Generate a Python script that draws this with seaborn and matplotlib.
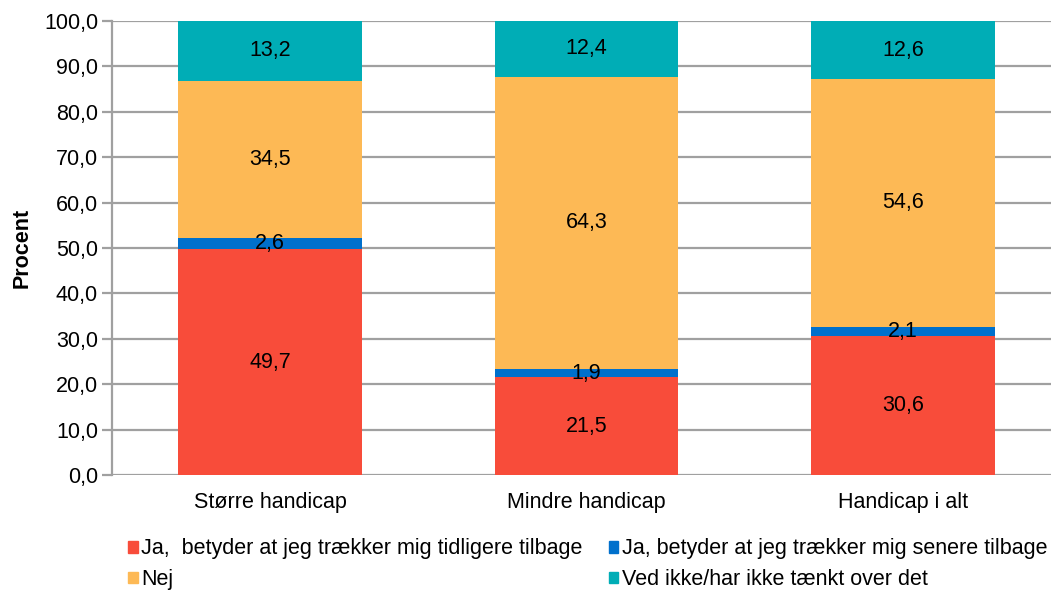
import seaborn as sns
import matplotlib.pyplot as plt
from matplotlib.patches import Patch
import numpy as np
import pandas as pd

# data
categories = ['Større handicap', 'Mindre handicap', 'Handicap i alt']
series_names = ['Ja,  betyder at jeg trækker mig tidligere tilbage',
                'Ja, betyder at jeg trækker mig senere tilbage',
                'Nej',
                'Ved ikke/har ikke tænkt over det']
tidligere = [49.7, 21.5, 30.6]
senere = [2.6, 1.9, 2.1]
nej = [34.5, 64.3, 54.6]
ved_ikke = [13.2, 12.4, 12.6]
colors = ['#F84C3A', '#0070CC', '#FDB955', '#00ADB6']

sns.set_theme(style='white')
plt.rcParams['font.family'] = ['Liberation Sans', 'DejaVu Sans']
plt.rcParams['text.color'] = 'black'
plt.rcParams['xtick.color'] = 'black'
plt.rcParams['ytick.color'] = 'black'
plt.rcParams['axes.labelcolor'] = 'black'
fs = 15.5

values = np.array([tidligere, senere, nej, ved_ikke])
cum = values.cumsum(axis=0)

fig = plt.figure(figsize=(10.51, 5.91), dpi=100)
ax = fig.add_axes([112 / 1051, 1 - 475 / 591, 949 / 1051, 454 / 591])

# draw the stack from the top layer down so each lower layer covers the one above
for i in range(3, -1, -1):
    df = pd.DataFrame({'kategori': categories, 'v': cum[i]})
    sns.barplot(data=df, x='kategori', y='v', color=colors[i], saturation=1,
                width=0.58, ax=ax, zorder=3, linewidth=0)

for j in range(len(categories)):
    for i in range(4):
        y = cum[i][j] - values[i][j] / 2
        ax.text(j, y, f'{values[i][j]:.1f}'.replace('.', ','), ha='center',
                va='center', fontsize=fs, color='black', zorder=5)

ax.set_ylim(0, 100)
ax.set_xlim(-0.5, 2.5)
ax.set_yticks(np.arange(0, 101, 10))
ax.set_yticklabels([f'{t:.1f}'.replace('.', ',') for t in np.arange(0, 101, 10)], fontsize=fs)
ax.set_xticks(range(3))
ax.set_xticklabels(categories, fontsize=fs)
ax.set_xlabel('')
ax.set_ylabel('Procent', fontsize=fs, fontweight='bold', labelpad=8)
ax.yaxis.grid(True, color='#A0A0A0', linewidth=1.6, zorder=0)
ax.set_axisbelow(True)
for s in ['top', 'right', 'bottom']:
    ax.spines[s].set_visible(False)
ax.spines['left'].set_color('#A0A0A0')
ax.spines['left'].set_linewidth(1.6)
ax.tick_params(axis='y', left=True, length=7, color='#A0A0A0', width=1.6, pad=3)
ax.tick_params(axis='x', bottom=False, pad=6)

handles = [Patch(color=colors[0], label=series_names[0]),
           Patch(color=colors[2], label=series_names[2]),
           Patch(color=colors[1], label=series_names[1]),
           Patch(color=colors[3], label=series_names[3])]
fig.legend(handles=handles, ncol=2, loc='upper left',
           bbox_to_anchor=(122 / 1051, 1 - 532 / 591), frameon=False,
           fontsize=fs, handlelength=0.45, handleheight=0.45, handletextpad=0.15,
           columnspacing=1.2, labelspacing=0.45, borderaxespad=0, borderpad=0.3)

fig.savefig('out.png', dpi=100)
